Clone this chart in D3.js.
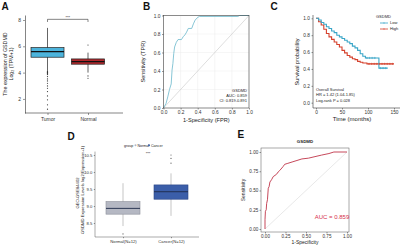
<!DOCTYPE html>
<html><head><meta charset="utf-8">
<script src="https://cdn.jsdelivr.net/npm/d3@7"></script>
<style>body{margin:0;background:#fff}svg{display:block}text{font-family:"Liberation Sans",Arial,sans-serif;fill:#222}</style>
</head><body><svg id="c" width="400" height="251"></svg>
<script>
// ---------- Panel A data ----------
const aGroups = ["Tumor", "Normal"];
const aQ1 = [5.17, 4.64];
const aMedian = [5.6, 4.84];
const aQ3 = [5.9, 5.04];
const aWhiskerLow = [4.12, 4.0];
const aWhiskerHigh = [7.4, 5.52];
const aTumorOutliers = [4.08, 4.06, 4.04, 4.02, 4.0, 3.97, 3.95, 3.9, 3.85, 3.7, 3.52, 3.37, 3.19, 2.99, 2.81, 2.56, 2.23, 1.93, 1.55, 1.22];
const aNormalOutliers = [6.1, 3.75, 3.57];
const aYTicks = [2, 4, 6, 8];
const aFills = ["#4db4dc", "#b0282c"];

// ---------- Panel B data ----------
const bFPR = [0, 0.03, 0.05, 0.07, 0.09, 0.10, 0.11, 0.12, 0.13, 0.15, 0.17, 0.21, 0.23, 0.25, 0.27, 0.29, 0.33, 0.35, 0.37, 0.40, 0.42, 0.87, 0.89, 1.0];
const bTPR = [0, 0.05, 0.12, 0.20, 0.26, 0.41, 0.48, 0.59, 0.66, 0.71, 0.74, 0.74, 0.77, 0.79, 0.82, 0.86, 0.86, 0.91, 0.95, 0.98, 0.99, 0.99, 1.0, 1.0];
const bTicks = [0, 0.2, 0.4, 0.6, 0.8, 1.0];
const bLegend = ["GSDMD", "AUC: 0.859", "CI: 0.819-0.891"];

// ---------- Panel C data ----------
const cLowTime = [0, 5, 10, 15, 20, 25, 30, 35, 40, 45, 50, 55, 60, 65, 70, 75, 80, 85, 90, 95, 118, 121, 138];
const cLowSurv = [1.0, 0.98, 0.95, 0.93, 0.90, 0.88, 0.85, 0.83, 0.80, 0.78, 0.76, 0.74, 0.72, 0.70, 0.67, 0.65, 0.62, 0.58, 0.55, 0.53, 0.53, 0.41, 0.41];
const cHighTime = [0, 5, 10, 15, 20, 25, 30, 35, 40, 45, 50, 55, 60, 65, 70, 75, 80, 85, 90, 98, 150];
const cHighSurv = [1.0, 0.96, 0.92, 0.87, 0.82, 0.78, 0.75, 0.72, 0.69, 0.66, 0.62, 0.59, 0.56, 0.54, 0.52, 0.51, 0.49, 0.48, 0.47, 0.46, 0.46];
const cLowCensor = [98, 103, 108, 113, 124, 129, 134];
const cHighCensor = [102, 107, 112, 117, 122, 127, 132, 137, 142, 147];
const cXTicks = [0, 50, 100, 150];
const cYTicks = [0, 0.2, 0.4, 0.6, 0.8, 1.0];
const cLegend = ["Low", "High"];
const cNotes = ["Overall Survival", "HR = 1.42 (1.04-1.85)", "Log-rank P = 0.028"];

// ---------- Panel D data ----------
const dGroups = ["Normal(N=12)", "Cancer(N=12)"];
const dLegend = ["Normal", "Cancer"];
const dQ1 = [8.76, 9.2];
const dMedian = [8.93, 9.42];
const dQ3 = [9.13, 9.62];
const dWhiskerLow = [8.41, 8.71];
const dWhiskerHigh = [9.67, 9.96];
const dNormalOutliers = [8.18];
const dCancerOutliers = [10.5, 10.4, 10.26];
const dYTicks = [8.5, 9.0, 9.5, 10.0, 10.5];
const dFills = ["#b5b8c3", "#3b5ea9"];
const dStrokes = ["#8c8f99", "#2a4584"];

// ---------- Panel E data ----------
const eFPR = [0, 0, 0.005, 0.015, 0.02, 0.03, 0.04, 0.05, 0.06, 0.08, 0.10, 0.14, 0.16, 0.18, 0.22, 0.24, 0.27, 0.33, 0.39, 0.45, 0.53, 0.61, 0.69, 0.78, 0.84, 1.0];
const eTPR = [0, 0.12, 0.23, 0.25, 0.33, 0.38, 0.53, 0.55, 0.61, 0.64, 0.68, 0.71, 0.74, 0.76, 0.81, 0.84, 0.85, 0.87, 0.89, 0.91, 0.92, 0.94, 0.96, 0.98, 1.0, 1.0];
const eTicks = [0, 0.25, 0.5, 0.75, 1.0];

const svg = d3.select("#c");
const FS = 4.6;

function styleAxis(g, fs) {
  g.selectAll("text").style("font-size", (fs || FS) + "px").style("fill", "#333");
  g.selectAll("line").attr("stroke", "#333").attr("stroke-width", 0.5);
  g.selectAll("path.domain").attr("stroke", "#333").attr("stroke-width", 0.6);
}
function panelLabel(t, x, y) {
  svg.append("text").attr("x", x).attr("y", y).text(t)
    .style("font-size", "10px").style("font-weight", "bold").style("fill", "#111");
}

// ================= Panel A =================
{
  const g = svg.append("g");
  const x = d3.scalePoint().domain(aGroups).range([47.5, 88]);
  const y = d3.scaleLinear().domain([0.93, 8.38]).range([113, 15]);
  const ax = g.append("g").attr("transform", "translate(25,0)")
    .call(d3.axisLeft(y).tickValues(aYTicks).tickSize(2).tickSizeOuter(0).tickPadding(2).tickFormat(d3.format("d")));
  styleAxis(ax, 5);
  g.append("line").attr("x1", 25).attr("x2", 123).attr("y1", 113).attr("y2", 113).attr("stroke", "#333").attr("stroke-width", 0.6);
  const bx = g.append("g").attr("transform", "translate(0,113)")
    .call(d3.axisBottom(x).tickSize(2).tickSizeOuter(0).tickPadding(2));
  bx.select("path.domain").remove();
  styleAxis(bx, 5);
  const bw = 33;
  aGroups.forEach((k, i) => {
    const cx = x(k);
    g.append("line").attr("x1", cx).attr("x2", cx).attr("y1", y(aWhiskerHigh[i])).attr("y2", y(aWhiskerLow[i])).attr("stroke", "#222").attr("stroke-width", 0.7);
    g.append("rect").attr("x", cx - bw / 2).attr("width", bw).attr("y", y(aQ3[i])).attr("height", y(aQ1[i]) - y(aQ3[i]))
      .attr("fill", aFills[i]).attr("stroke", "#222").attr("stroke-width", 0.7);
    g.append("line").attr("x1", cx - bw / 2).attr("x2", cx + bw / 2).attr("y1", y(aMedian[i])).attr("y2", y(aMedian[i])).attr("stroke", "#111").attr("stroke-width", 1.3);
  });
  g.selectAll(".ot").data(aTumorOutliers).join("circle").attr("cx", x("Tumor")).attr("cy", d => y(d)).attr("r", 0.6).attr("fill", "#333");
  g.selectAll(".on").data(aNormalOutliers).join("circle").attr("cx", x("Normal")).attr("cy", d => y(d)).attr("r", 0.6).attr("fill", "#333");
  const by = y(8.05), bt = y(7.85);
  g.append("path").attr("d", `M${x("Tumor")},${bt}V${by}H${x("Normal")}V${bt}`).attr("fill", "none").attr("stroke", "#333").attr("stroke-width", 0.6);
  g.append("text").attr("x", (x("Tumor") + x("Normal")) / 2).attr("y", by - 0.8).attr("text-anchor", "middle").text("***").style("font-size", "4px");
  const yl = g.append("text").attr("transform", "translate(7,64) rotate(-90)").attr("text-anchor", "middle").style("font-size", "5.3px");
  yl.append("tspan").attr("x", 0).attr("dy", 0).text("The expression of GSDMD");
  const yl2 = g.append("text").attr("transform", "translate(12.5,64) rotate(-90)").attr("text-anchor", "middle").style("font-size", "5.3px");
  yl2.append("tspan").text("Log");
  yl2.append("tspan").attr("dy", 1.2).style("font-size", "3.6px").text("2");
  yl2.append("tspan").attr("dy", -1.2).text(" (TPM+1)");
  panelLabel("A", 1.5, 10);
}

// ================= Panel B =================
{
  const g = svg.append("g");
  const x = d3.scaleLinear().domain([0, 1]).range([163.5, 249]);
  const y = d3.scaleLinear().domain([0, 1]).range([108, 15.5]);
  g.selectAll(".gx").data(bTicks).join("line").attr("x1", d => x(d)).attr("x2", d => x(d)).attr("y1", y(0)).attr("y2", y(1)).attr("stroke", "#ececec").attr("stroke-width", 0.5);
  g.selectAll(".gy").data(bTicks).join("line").attr("y1", d => y(d)).attr("y2", d => y(d)).attr("x1", x(0)).attr("x2", x(1)).attr("stroke", "#ececec").attr("stroke-width", 0.5);
  g.append("line").attr("x1", x(0)).attr("y1", y(0)).attr("x2", x(1)).attr("y2", y(1)).attr("stroke", "#c8c8c8").attr("stroke-width", 0.6);
  const pts = bFPR.map((f, i) => [f, bTPR[i]]);
  g.append("path").attr("d", d3.line().x(d => x(d[0])).y(d => y(d[1]))(pts)).attr("fill", "none").attr("stroke", "#6ab8cb").attr("stroke-width", 0.8);
  g.append("rect").attr("x", x(0)).attr("y", y(1)).attr("width", x(1) - x(0)).attr("height", y(0) - y(1)).attr("fill", "none").attr("stroke", "#444").attr("stroke-width", 0.6);
  const ay = g.append("g").attr("transform", `translate(${x(0)},0)`).call(d3.axisLeft(y).tickValues(bTicks).tickSize(1.5).tickSizeOuter(0).tickPadding(1.5).tickFormat(d3.format(".1f")));
  ay.select("path.domain").remove(); styleAxis(ay, 4.8);
  const axb = g.append("g").attr("transform", `translate(0,${y(0)})`).call(d3.axisBottom(x).tickValues(bTicks).tickSize(1.5).tickSizeOuter(0).tickPadding(1.5).tickFormat(d3.format(".1f")));
  axb.select("path.domain").remove(); styleAxis(axb, 4.8);
  g.append("text").attr("transform", `translate(145,${(y(0) + y(1)) / 2}) rotate(-90)`).attr("text-anchor", "middle").text("Sensitivity (TPR)").style("font-size", "5.6px");
  g.append("text").attr("x", (x(0) + x(1)) / 2).attr("y", 122).attr("text-anchor", "middle").text("1-Specificity (FPR)").style("font-size", "5.6px");
  bLegend.forEach((t, i) => g.append("text").attr("x", 247).attr("y", 92 + i * 4.8).attr("text-anchor", "end").text(t).style("font-size", "4px"));
  panelLabel("B", 143, 10);
}

// ================= Panel C =================
{
  const g = svg.append("g");
  const x = d3.scaleLinear().domain([0, 150]).range([316, 394]);
  const y = d3.scaleLinear().domain([0, 1]).range([102.7, 18.3]);
  const cols = ["#3aa6c8", "#d5412d"];
  const step = d3.line().x(d => x(d[0])).y(d => y(d[1])).curve(d3.curveStepAfter);
  const low = cLowTime.map((t, i) => [t, cLowSurv[i]]);
  const high = cHighTime.map((t, i) => [t, cHighSurv[i]]);
  g.append("path").attr("d", step(high)).attr("fill", "none").attr("stroke", cols[1]).attr("stroke-width", 1.1);
  g.append("path").attr("d", step(low)).attr("fill", "none").attr("stroke", cols[0]).attr("stroke-width", 1.1);
  function survAt(times, surv, t) { let s = surv[0]; for (let i = 0; i < times.length; i++) if (times[i] <= t) s = surv[i]; return s; }
  function censor(arr, times, surv, col) {
    arr.forEach(t => {
      const cx = x(t), cy = y(survAt(times, surv, t));
      g.append("path").attr("d", `M${cx - 1.1},${cy}H${cx + 1.1}M${cx},${cy - 1.1}V${cy + 1.1}`).attr("stroke", col).attr("stroke-width", 0.5);
    });
  }
  censor(cLowCensor, cLowTime, cLowSurv, cols[0]);
  censor(cHighCensor, cHighTime, cHighSurv, cols[1]);
  g.append("line").attr("x1", 313).attr("x2", 313).attr("y1", 15).attr("y2", 108).attr("stroke", "#333").attr("stroke-width", 0.6);
  g.append("line").attr("x1", 313).attr("x2", 400).attr("y1", 108).attr("y2", 108).attr("stroke", "#333").attr("stroke-width", 0.6);
  const ay = g.append("g").attr("transform", "translate(313,0)").call(d3.axisLeft(y).tickValues(cYTicks).tickSize(1.5).tickSizeOuter(0).tickPadding(1.5).tickFormat(d3.format(".1f")));
  ay.select("path.domain").remove(); styleAxis(ay, 4.8);
  const axb = g.append("g").attr("transform", "translate(0,108)").call(d3.axisBottom(x).tickValues(cXTicks).tickSize(1.5).tickSizeOuter(0).tickPadding(1.5).tickFormat(d3.format("d")));
  axb.select("path.domain").remove(); styleAxis(axb, 4.8);
  g.append("text").attr("transform", "translate(299,62) rotate(-90)").attr("text-anchor", "middle").text("Survival probability").style("font-size", "5.6px");
  g.append("text").attr("x", 352).attr("y", 121).attr("text-anchor", "middle").text("Time (months)").style("font-size", "6px");
  g.append("text").attr("x", 376).attr("y", 18).text("GSDMD").style("font-size", "4px");
  cLegend.forEach((t, i) => {
    const ly = 23 + i * 6;
    g.append("line").attr("x1", 380).attr("x2", 388).attr("y1", ly).attr("y2", ly).attr("stroke", cols[i]).attr("stroke-width", 0.8);
    g.append("path").attr("d", `M384,${ly - 1}V${ly + 1}`).attr("stroke", cols[i]).attr("stroke-width", 0.5);
    g.append("text").attr("x", 390).attr("y", ly + 1.4).text(t).style("font-size", "4px");
  });
  cNotes.forEach((t, i) => g.append("text").attr("x", 316).attr("y", 91 + i * 5.3).text(t).style("font-size", "4px"));
  panelLabel("C", 270.5, 10);
}

// ================= Panel D =================
{
  const g = svg.append("g");
  const x = d3.scalePoint().domain(dGroups).range([123, 171]);
  const y = d3.scaleLinear().domain([8.1, 10.6]).range([236.6, 151.6]);
  g.append("line").attr("x1", 95).attr("x2", 95).attr("y1", 151.6).attr("y2", 237).attr("stroke", "#555").attr("stroke-width", 0.5);
  g.append("line").attr("x1", 95).attr("x2", 199).attr("y1", 237).attr("y2", 237).attr("stroke", "#555").attr("stroke-width", 0.5);
  const ay = g.append("g").attr("transform", "translate(95,0)").call(d3.axisLeft(y).tickValues(dYTicks).tickSize(1.2).tickSizeOuter(0).tickPadding(1.5).tickFormat(d3.format(".1f")));
  ay.select("path.domain").remove(); styleAxis(ay, 4.2);
  const axb = g.append("g").attr("transform", "translate(0,237)").call(d3.axisBottom(x).tickSize(1.2).tickSizeOuter(0).tickPadding(1.5));
  axb.select("path.domain").remove(); styleAxis(axb, 4.2);
  const bw = 34;
  dGroups.forEach((k, i) => {
    const cx = x(k);
    g.append("line").attr("x1", cx).attr("x2", cx).attr("y1", y(dWhiskerHigh[i])).attr("y2", y(dWhiskerLow[i])).attr("stroke", "#888").attr("stroke-width", 0.5);
    g.append("rect").attr("x", cx - bw / 2).attr("width", bw).attr("y", y(dQ3[i])).attr("height", y(dQ1[i]) - y(dQ3[i]))
      .attr("fill", dFills[i]).attr("stroke", dStrokes[i]).attr("stroke-width", 0.6);
    g.append("line").attr("x1", cx - bw / 2).attr("x2", cx + bw / 2).attr("y1", y(dMedian[i])).attr("y2", y(dMedian[i])).attr("stroke", "#1e2a48").attr("stroke-width", 0.9);
  });
  g.selectAll(".dn").data(dNormalOutliers).join("circle").attr("cx", x(dGroups[0])).attr("cy", d => y(d)).attr("r", 0.55).attr("fill", "#555");
  g.selectAll(".dc").data(dCancerOutliers).join("circle").attr("cx", x(dGroups[1])).attr("cy", d => y(d)).attr("r", 0.55).attr("fill", "#555");
  g.append("text").attr("x", 148).attr("y", 155).attr("text-anchor", "middle").text("***").style("font-size", "4px");
  g.append("text").attr("x", 124).attr("y", 146.5).text("group").style("font-size", "3.6px");
  dLegend.forEach((t, i) => {
    const lx = 135.5 + i * 13.5;
    g.append("circle").attr("cx", lx).attr("cy", 145.3).attr("r", 1).attr("fill", dFills[i]);
    g.append("text").attr("x", lx + 2).attr("y", 146.5).text(t).style("font-size", "3.6px");
  });
  g.append("text").attr("transform", "translate(78.5,193) rotate(-90)").attr("text-anchor", "middle").text("GEO-GSE84402").style("font-size", "4.2px");
  g.append("text").attr("transform", "translate(83.5,190) rotate(-90)").attr("text-anchor", "middle").text("GSDMD Expression Levels log2(Expression+1)").style("font-size", "4.2px");
  panelLabel("D", 67.5, 139.5);
}

// ================= Panel E =================
{
  const g = svg.append("g");
  const x = d3.scaleLinear().domain([0, 1]).range([265, 347]);
  const y = d3.scaleLinear().domain([0, 1]).range([229, 152]);
  g.append("rect").attr("x", 261).attr("y", 148).attr("width", 88).attr("height", 84).attr("fill", "none").attr("stroke", "#555").attr("stroke-width", 0.5);
  g.append("line").attr("x1", x(0)).attr("y1", y(0)).attr("x2", x(1)).attr("y2", y(1)).attr("stroke", "#d8d8d8").attr("stroke-width", 0.6);
  const pts = eFPR.map((f, i) => [f, eTPR[i]]);
  g.append("path").attr("d", d3.line().x(d => x(d[0])).y(d => y(d[1]))(pts)).attr("fill", "none").attr("stroke", "#c03448").attr("stroke-width", 0.9);
  const ay = g.append("g").attr("transform", "translate(261,0)").call(d3.axisLeft(y).tickValues(eTicks).tickSize(1.5).tickSizeOuter(0).tickPadding(1.2).tickFormat(d3.format(".2f")));
  ay.select("path.domain").remove(); styleAxis(ay, 4.6);
  const axb = g.append("g").attr("transform", "translate(0,232)").call(d3.axisBottom(x).tickValues(eTicks).tickSize(1.5).tickSizeOuter(0).tickPadding(1).tickFormat(d3.format(".2f")));
  axb.select("path.domain").remove(); styleAxis(axb, 4.6);
  g.append("text").attr("x", 305).attr("y", 143).attr("text-anchor", "middle").text("GSDMD").style("font-size", "4.4px").style("font-weight", "bold");
  g.append("text").attr("transform", "translate(245,190) rotate(-90)").attr("text-anchor", "middle").text("Sensitivity").style("font-size", "5px");
  g.append("text").attr("x", 305).attr("y", 243.5).attr("text-anchor", "middle").text("1-Specificity").style("font-size", "5px");
  g.append("text").attr("x", 332).attr("y", 219).attr("text-anchor", "middle").text("AUC = 0.859").style("font-size", "6px").style("fill", "#d6304a");
  panelLabel("E", 237.5, 137.5);
}
</script></body></html>
